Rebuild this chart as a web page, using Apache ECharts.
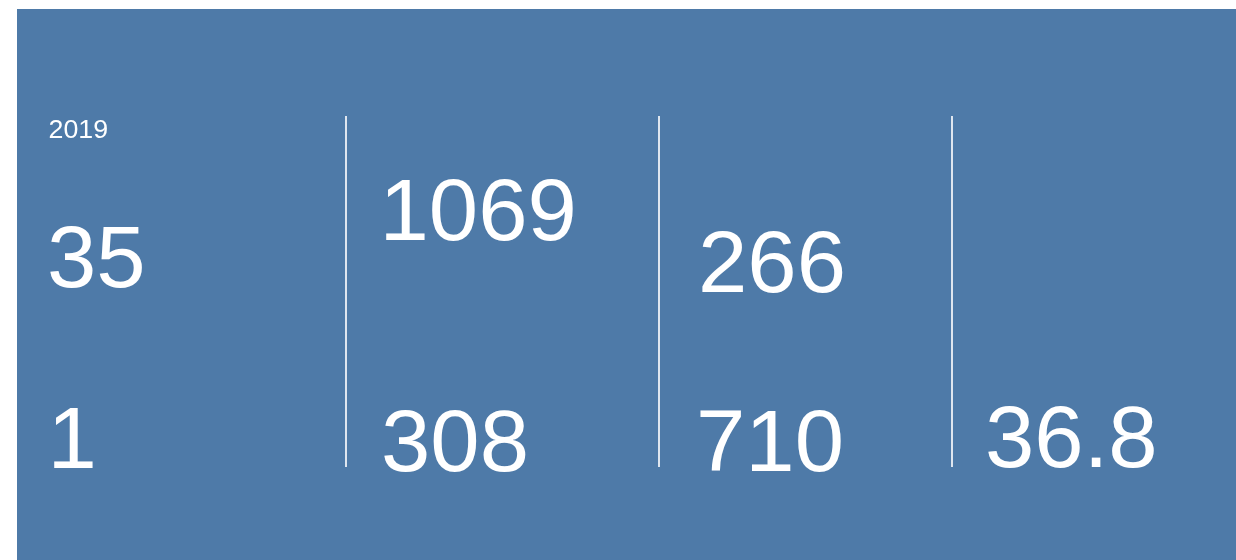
<!DOCTYPE html>
<html>
<head>
<meta charset="utf-8">
<script src="https://cdn.jsdelivr.net/npm/echarts@6/dist/echarts.min.js"></script>
<style>
html,body{margin:0;padding:0;background:#fff;}
#c{width:1236px;height:560px;}
</style>
</head>
<body>
<div id="c"></div>
<script>
// Data
const yearLabel = '2019';
const topValues = ['35', '1069', '266', ''];
const bottomValues = ['1', '308', '710', '36.8'];

// Layout (not data)
const topX = [47, 379.5, 698, 0];
const bottomX = [47.5, 381, 696, 985];
const topY = [263.5, 216.5, 268.5, 0];
const bottomY = [444, 447, 447, 443];
const dividerX = [346, 659, 952];
const FONT = '"Liberation Sans", Arial, sans-serif';
const BG = '#4E7AA8';
const SX = 1.02;

const chart = echarts.init(document.getElementById('c'), null, {renderer: 'canvas'});
const elements = [];
elements.push({type: 'rect', shape: {x: 17, y: 9, width: 1236 - 17, height: 560 - 9}, style: {fill: BG}, silent: true, z: 0});
elements.push({type: 'text', x: 48.5, y: 131, scaleX: 1.03, style: {text: yearLabel, fill: '#fff', font: '26px ' + FONT, textAlign: 'left', textVerticalAlign: 'middle'}, z: 2});
topValues.forEach((v, i) => {
  if (!v) return;
  elements.push({type: 'text', x: topX[i], y: topY[i], scaleX: SX, style: {text: v, fill: '#fff', font: '87px ' + FONT, textAlign: 'left', textVerticalAlign: 'middle'}, z: 2});
});
bottomValues.forEach((v, i) => {
  if (!v) return;
  elements.push({type: 'text', x: bottomX[i], y: bottomY[i], scaleX: SX, style: {text: v, fill: '#fff', font: '87px ' + FONT, textAlign: 'left', textVerticalAlign: 'middle'}, z: 2});
});
dividerX.forEach(x => {
  elements.push({type: 'line', shape: {x1: x, y1: 116, x2: x, y2: 467}, style: {stroke: '#dfe6ef', lineWidth: 2}, z: 2});
});
chart.setOption({animation: false, graphic: {elements}});
</script>
</body>
</html>
